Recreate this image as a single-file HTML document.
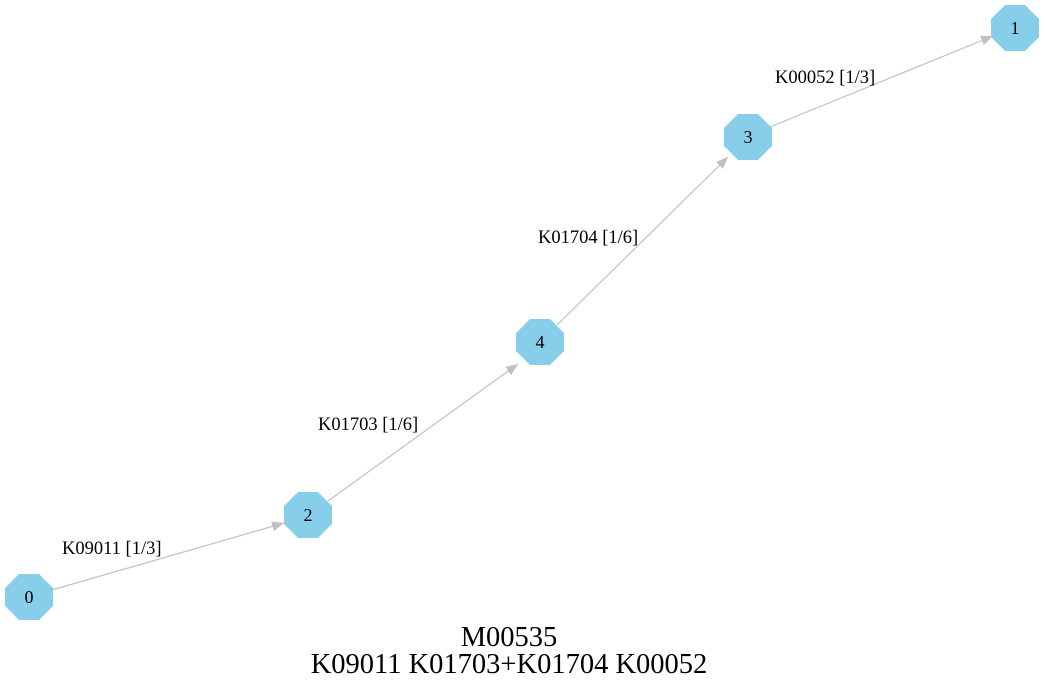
<!DOCTYPE html>
<html><head><style>body{margin:0;background:#fff}</style></head><body>
<svg width="1045" height="689" xmlns="http://www.w3.org/2000/svg" font-family="Liberation Serif, serif">
<defs>
<polygon id="oct" points="-10,-23 10,-23 24,-9 24,9 10,23 -10,23 -24,9 -24,-9" fill="#87ceeb"/>
<marker id="ah" markerWidth="12" markerHeight="10" refX="12" refY="5" orient="auto" markerUnits="userSpaceOnUse"><path d="M0,0 L12,5 L0,10 z" fill="#c0c0c0"/></marker>
</defs>
<g stroke="#c0c0c0" stroke-width="1.2" fill="none" marker-end="url(#ah)">
<line x1="52" y1="590" x2="284" y2="523"/>
<line x1="328" y1="501" x2="518" y2="364"/>
<line x1="557" y1="325" x2="728" y2="157"/>
<line x1="770" y1="127" x2="993" y2="36"/>
</g>
<use href="#oct" x="29" y="597"/>
<use href="#oct" x="308" y="515"/>
<use href="#oct" x="540" y="342"/>
<use href="#oct" x="748" y="137"/>
<use href="#oct" x="1015" y="28"/>
<g font-size="18" text-anchor="middle">
<text x="29" y="603">0</text>
<text x="308" y="521">2</text>
<text x="540" y="348">4</text>
<text x="748" y="143">3</text>
<text x="1015" y="34">1</text>
</g>
<g font-size="18.5">
<text x="62" y="554">K09011 [1/3]</text>
<text x="318" y="430">K01703 [1/6]</text>
<text x="538" y="243">K01704 [1/6]</text>
<text x="775" y="83">K00052 [1/3]</text>
</g>
<g font-size="28.5" text-anchor="middle">
<text x="509" y="646">M00535</text>
<text x="509" y="673">K09011 K01703+K01704 K00052</text>
</g>
</svg>
</body></html>
